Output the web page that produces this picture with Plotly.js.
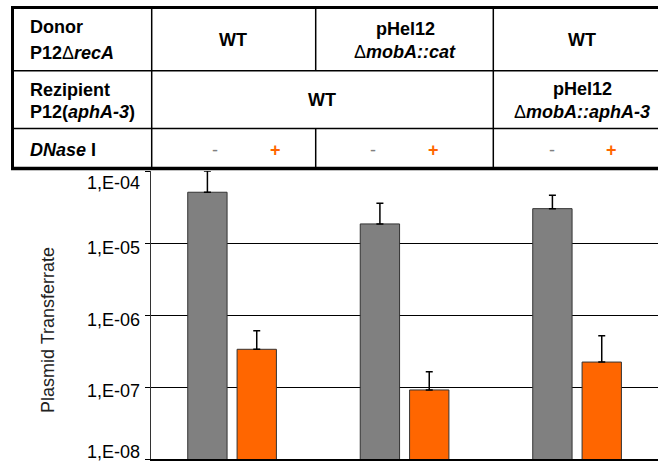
<!DOCTYPE html>
<html>
<head>
<meta charset="utf-8">
<script src="https://cdn.plot.ly/plotly-3.0.1.min.js"></script>
<style>html,body{margin:0;padding:0;background:#fff;}#chart{width:658px;height:461px;}</style>
</head>
<body>
<div id="chart"></div>
<script>
// ---- data ----
const categories = ["A", "B", "C"];
const withoutDNase = [5.07e-5, 1.84e-5, 3.0e-5];
const withoutDNaseErr = [4.9e-5, 1.72e-5, 1.6e-5];
const withDNase = [3.34e-7, 9.1e-8, 2.22e-7];
const withDNaseErr = [2.7e-7, 7.2e-8, 2.95e-7];
const tickValues = [1e-8, 1e-7, 1e-6, 1e-5, 1e-4];
const tickLabels = ["1,E-08", "1,E-07", "1,E-06", "1,E-05", "1,E-04"];
const rowHeaders = [
  ["<b>Donor</b>", "<b>P12</b>Δ<b><i>recA</i></b>"],
  ["<b>Rezipient</b>", "<b>P12(<i>aphA-3</i>)</b>"],
  ["<b><i>DNase</i> I</b>"]
];
const donorLabels = [["<b>WT</b>"], ["<b>pHel12</b>", "Δ<b><i>mobA::cat</i></b>"], ["<b>WT</b>"]];
const recipientLabels = [["<b>WT</b>"], ["<b>pHel12</b>", "Δ<b><i>mobA::aphA-3</i></b>"]];
const dnaseLabels = ["-", "<b>+</b>"];

// ---- geometry helpers (pixels -> paper) ----
const W = 658, H = 461, L = 151, T = 171, B = 2;
const PW = W - L, PH = H - T - B;
const px = v => (v - L) / PW;
const py = v => (H - B - v) / PH;
const FONT = "Arial, 'Liberation Sans', sans-serif";

const annotations = [];
function ann(text, x, y, opts) {
  annotations.push(Object.assign({
    text: text, xref: "paper", yref: "paper", x: px(x), y: py(y),
    xanchor: "center", yanchor: "middle", showarrow: false,
    font: {family: FONT, size: 18, color: "#000"}
  }, opts || {}));
}
// row headers
ann(rowHeaders[0][0], 28, 27, {xanchor: "left"});
ann(rowHeaders[0][1], 28, 53, {xanchor: "left"});
ann(rowHeaders[1][0], 28, 90, {xanchor: "left"});
ann(rowHeaders[1][1], 28, 112, {xanchor: "left"});
ann(rowHeaders[2][0], 28, 150, {xanchor: "left"});
// donor row
ann(donorLabels[0][0], 233, 40);
ann(donorLabels[1][0], 405, 29);
ann(donorLabels[1][1], 405, 52);
ann(donorLabels[2][0], 582, 40);
// recipient row
ann(recipientLabels[0][0], 322, 100);
ann(recipientLabels[1][0], 582, 89);
ann(recipientLabels[1][1], 582, 112);
// DNase row
const minusX = [215, 373, 552], plusX = [275, 433, 611];
for (let i = 0; i < 3; i++) {
  ann(dnaseLabels[0], minusX[i], 150, {font: {family: FONT, size: 18, color: "#808080"}});
  ann(dnaseLabels[1], plusX[i], 150, {font: {family: FONT, size: 18, color: "#FF6600"}});
}
// y axis title
ann("Plasmid Transferrate", 48, 330, {textangle: -90, font: {family: FONT, size: 18, color: "#222"}});

// y tick labels (placed on the y axis scale, nudged as in the original)
const labelShift = [7, -4, -5, -5, -12];
tickValues.forEach((v, i) => {
  annotations.push({
    text: tickLabels[i], xref: "paper", x: px(142), xanchor: "right",
    yref: "y", y: Math.log10(v), yanchor: "middle", yshift: labelShift[i],
    showarrow: false, font: {family: FONT, size: 18, color: "#000"}
  });
});

const shapes = [];
function line(x0, y0, x1, y1, w) {
  shapes.push({type: "line", xref: "paper", yref: "paper", x0: px(x0), y0: py(y0), x1: px(x1), y1: py(y1),
    line: {color: "#000", width: w}, layer: "above"});
}
line(11, 7.5, 670, 7.5, 3);
line(12.5, 6, 12.5, 170, 3);
line(11, 168.5, 670, 168.5, 3.5);
line(12, 70.7, 670, 70.7, 1.5);
line(12, 128.5, 670, 128.5, 1.5);
line(151.7, 7, 151.7, 168, 1.5);
line(315.7, 7, 315.7, 70.7, 1.5);
line(315.7, 128.5, 315.7, 168, 1.5);
line(493.3, 7, 493.3, 168, 1.5);

const traces = [
  {type: "bar", x: categories, y: withoutDNase, name: "- DNase I",
   offset: -0.287, width: 0.228,
   marker: {color: "#808080", line: {color: "#333", width: 1}},
   error_y: {type: "data", symmetric: false, array: withoutDNaseErr, arrayminus: [0, 0, 0],
             color: "#000", thickness: 1.5, width: 3.5}},
  {type: "bar", x: categories, y: withDNase, name: "+ DNase I",
   offset: -0.001, width: 0.228,
   marker: {color: "#FF6600", line: {color: "#333", width: 1}},
   error_y: {type: "data", symmetric: false, array: withDNaseErr, arrayminus: [0, 0, 0],
             color: "#000", thickness: 1.5, width: 3.5}}
];

const layout = {
  width: W, height: H,
  margin: {l: L, r: 0, t: T, b: B, pad: 0},
  paper_bgcolor: "#fff", plot_bgcolor: "#fff",
  showlegend: false,
  barmode: "overlay",
  font: {family: FONT, size: 18, color: "#000"},
  xaxis: {
    type: "category", range: [-0.5, -0.5 + PW / 172.5],
    showticklabels: false, showgrid: false, zeroline: false,
    showline: true, linecolor: "#000", linewidth: 1.5,
    ticks: "outside", tickson: "boundaries", ticklen: 3, tickcolor: "#000", tickwidth: 1
  },
  yaxis: {
    type: "log", range: [-8, -4],
    tickmode: "array", tickvals: tickValues, ticktext: tickLabels,
    showticklabels: false,
    showgrid: true, gridcolor: "#000", gridwidth: 1,
    showline: true, linecolor: "#333", linewidth: 1.5,
    ticks: "outside", ticklen: 5, tickcolor: "#000", tickwidth: 1,
    zeroline: false
  },
  annotations: annotations,
  shapes: shapes
};

Plotly.newPlot("chart", traces, layout, {displayModeBar: false, staticPlot: true});
</script>
</body>
</html>
